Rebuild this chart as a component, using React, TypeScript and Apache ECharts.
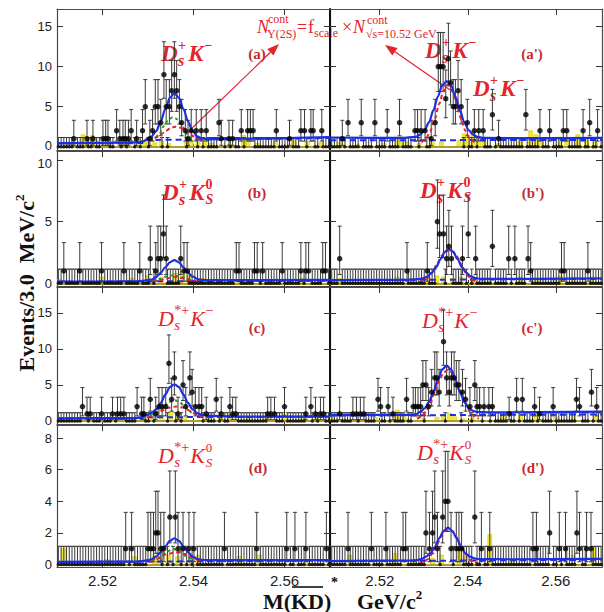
import React, { useEffect, useRef } from "react";
import * as echarts from "echarts";

// ---------- axis ticks ----------
const xTickValues = [2.52, 2.54, 2.56];
const yTicksRow = [
  [0, 5, 10, 15],
  [0, 5, 10],
  [0, 5, 10, 15],
  [0, 2, 4, 6, 8],
];

// ---------- binning / Poisson intervals ----------
const BIN_START = 2.5091;
const BIN_WIDTH = 0.0006;
const BIN_COUNT = 103;
const poissonLow = [0, 0.173, 0.708, 1.367, 2.086, 2.84, 3.62, 4.419, 5.232, 6.057, 6.891, 7.734];
const poissonHigh = [1.148, 3.3, 4.638, 5.918, 7.163, 8.382, 9.584, 10.77, 11.95, 13.11, 14.27, 15.42];

// ---------- data: non-empty bins [mass GeV, events] ----------
const countsA = [[2.5137,1],[2.5166,1],[2.5179,1],[2.5201,1],[2.5207,1],[2.5212,1],[2.5231,2],[2.5238,1],[2.5245,1],[2.525,1],[2.5257,1],[2.5263,2],[2.5275,1],[2.5288,2],[2.5294,5],[2.5304,1],[2.531,2],[2.5316,5],[2.5322,5],[2.5328,3],[2.5335,9],[2.534,5],[2.5347,5],[2.5352,7],[2.5358,9],[2.5363,7],[2.5369,5],[2.5374,3],[2.5382,2],[2.5388,1],[2.5395,2],[2.5406,2],[2.5417,2],[2.5428,2],[2.5456,3],[2.5461,1],[2.5478,1],[2.5486,1],[2.5505,2],[2.5519,2],[2.5525,2],[2.5531,2],[2.5582,2],[2.5611,1],[2.5636,2],[2.5644,2],[2.5658,2],[2.5663,2],[2.5682,2]];
const countsA2 = [[2.5115,1],[2.5128,3],[2.5158,3],[2.5189,3],[2.5217,2],[2.5245,3],[2.528,2],[2.5286,2],[2.5294,2],[2.5303,2],[2.5317,1],[2.5326,3],[2.5333,10],[2.5338,10],[2.5344,10],[2.535,6],[2.5356,11],[2.5361,8],[2.5367,5],[2.5372,5],[2.5378,7],[2.5385,5],[2.5399,3],[2.5415,2],[2.5425,2],[2.5435,2],[2.5456,4],[2.547,1],[2.5532,4],[2.5564,2],[2.5586,2],[2.5617,2],[2.5625,2],[2.5662,2],[2.5677,3],[2.5695,2]];
const countsB = [[2.5115,1],[2.515,1],[2.5198,1],[2.5247,1],[2.5282,1],[2.5305,2],[2.5317,1],[2.5322,2],[2.5328,2],[2.5334,4],[2.534,2],[2.5372,2],[2.5379,1],[2.5386,1],[2.5494,1],[2.55,1],[2.5534,1],[2.554,1],[2.5552,1],[2.5595,1],[2.5636,1],[2.5647,1],[2.5653,1],[2.5684,1],[2.569,1]];
const countsB2 = [[2.5109,2],[2.5262,1],[2.5308,1],[2.5331,5],[2.5336,4],[2.5345,4],[2.5352,2],[2.5357,3],[2.5363,2],[2.5388,2],[2.5401,4],[2.5418,2],[2.5456,3],[2.5493,2],[2.5507,2],[2.5537,2],[2.5543,1],[2.5613,1],[2.5619,1],[2.5673,1]];
const countsC = [[2.5156,2],[2.5166,1],[2.5173,1],[2.5198,1],[2.5222,1],[2.5233,1],[2.524,1],[2.5247,1],[2.5276,2],[2.5286,1],[2.5291,1],[2.5305,3],[2.5317,1],[2.5324,2],[2.5331,2],[2.5339,2],[2.5346,8],[2.5352,3],[2.5358,6],[2.5366,1],[2.5377,5],[2.5383,2],[2.5392,6],[2.5397,4],[2.5404,2],[2.5412,2],[2.5418,2],[2.5428,1],[2.545,3],[2.5461,1],[2.548,2],[2.5486,1],[2.5493,1],[2.5563,1],[2.557,1],[2.5578,1],[2.56,2],[2.5647,1],[2.5658,2],[2.5668,1],[2.5679,1],[2.5686,1]];
const countsC2 = [[2.5109,1],[2.5139,1],[2.5147,1],[2.5156,1],[2.5164,1],[2.5196,3],[2.5202,2],[2.5219,2],[2.523,1],[2.5261,3],[2.5276,2],[2.5281,2],[2.5287,2],[2.5293,2],[2.5298,5],[2.5305,5],[2.5311,2],[2.5318,4],[2.5325,6],[2.533,6],[2.5335,4],[2.5345,11],[2.5352,6],[2.5358,4],[2.5363,6],[2.5369,6],[2.5374,5],[2.538,5],[2.5388,4],[2.5395,3],[2.5405,2],[2.5416,5],[2.5421,2],[2.5427,2],[2.5437,2],[2.5448,2],[2.5456,2],[2.5494,1],[2.5511,3],[2.5524,3],[2.5552,2],[2.5563,1],[2.5594,2],[2.5647,3],[2.5654,2],[2.5681,4],[2.5693,2]];
const countsD = [[2.5251,1],[2.5264,1],[2.53,1],[2.5306,1],[2.5312,1],[2.5317,2],[2.5322,2],[2.5328,1],[2.5335,1],[2.5348,3],[2.536,3],[2.5366,1],[2.5377,1],[2.539,1],[2.5401,1],[2.5468,1],[2.5539,1],[2.5605,1],[2.5623,1],[2.5647,1],[2.5692,1]];
const countsD2 = [[2.5128,1],[2.5181,1],[2.5214,1],[2.5253,1],[2.5259,1],[2.5305,2],[2.5313,1],[2.532,2],[2.5325,3],[2.5331,1],[2.5343,3],[2.5349,4],[2.5355,4],[2.5362,1],[2.5374,1],[2.538,1],[2.5386,1],[2.5416,3],[2.5431,1],[2.545,1],[2.5548,1],[2.5556,1],[2.5586,2],[2.5608,1],[2.5622,1],[2.5648,2],[2.5654,1],[2.567,1],[2.568,1]];

// ---------- yellow (continuum) histograms [mass, height] ----------
const yellowA = [[2.512,0.4],[2.5135,0.6],[2.5157,1.5],[2.5163,1.1],[2.5178,1.4],[2.5184,0.8],[2.5215,0.5],[2.525,0.4],[2.529,0.8],[2.53,1.2],[2.5315,0.5],[2.533,0.7],[2.5345,0.4],[2.5385,0.6],[2.5395,0.8],[2.541,0.5],[2.5425,0.9],[2.544,0.4],[2.548,0.3],[2.551,1.4],[2.552,0.9],[2.554,0.4],[2.558,0.5],[2.562,0.8],[2.565,0.6],[2.568,0.5]];
const yellowA2 = [[2.511,0.5],[2.515,0.3],[2.521,0.4],[2.524,0.9],[2.525,1.2],[2.5262,0.6],[2.529,0.4],[2.532,0.5],[2.534,0.6],[2.538,0.8],[2.5392,1.6],[2.54,1.2],[2.5412,1.9],[2.5425,1.0],[2.5437,0.7],[2.547,0.4],[2.552,0.6],[2.5543,2.0],[2.5555,1.5],[2.5565,0.8],[2.561,1.2],[2.5625,0.9],[2.565,1.5],[2.567,0.8],[2.569,0.6]];
const yellowB = [[2.5105,0.3],[2.52,0.5],[2.5265,0.4],[2.53,0.6],[2.533,0.5],[2.536,0.8],[2.5375,1.0],[2.539,0.6],[2.542,0.4],[2.55,0.3],[2.564,0.4]];
const yellowB2 = [[2.511,0.4],[2.518,0.3],[2.524,0.5],[2.527,0.4],[2.531,0.5],[2.533,0.6],[2.5345,0.5],[2.5365,0.4],[2.5385,0.5],[2.541,0.6],[2.545,0.4],[2.552,0.5],[2.556,0.4],[2.561,0.6],[2.564,0.5],[2.568,0.5]];
const yellowC = [[2.511,0.4],[2.516,0.3],[2.527,0.5],[2.529,0.8],[2.5305,0.6],[2.533,0.7],[2.535,1.3],[2.5365,0.9],[2.538,0.6],[2.543,0.5],[2.546,0.7],[2.548,0.9],[2.552,0.4],[2.556,0.5],[2.56,0.9],[2.564,0.6],[2.567,0.9]];
const yellowC2 = [[2.509,0.6],[2.512,0.3],[2.519,0.5],[2.524,1.5],[2.5255,0.9],[2.53,0.4],[2.533,0.5],[2.5345,0.7],[2.5358,1.1],[2.537,0.6],[2.539,0.3],[2.541,0.4],[2.548,0.6],[2.552,0.9],[2.5555,1.2],[2.56,0.5],[2.564,0.8],[2.569,0.6]];
const yellowD = [[2.5115,1.0],[2.521,0.3],[2.527,0.5],[2.5315,0.6],[2.5325,0.4],[2.5345,0.6],[2.5365,0.5],[2.5395,0.4],[2.541,0.6],[2.55,0.5],[2.5545,0.6],[2.565,0.3]];
const yellowD2 = [[2.5132,0.6],[2.5234,0.7],[2.528,0.3],[2.532,0.4],[2.534,0.6],[2.538,0.8],[2.5395,0.5],[2.545,1.9],[2.55,0.3],[2.564,0.6],[2.5685,1.1]];

// ---------- fit curves [mass, value] ----------
const blueA = [[2.51,0.45],[2.525,0.5],[2.5288,0.6],[2.5298,0.95],[2.5308,1.3],[2.5318,1.95],[2.5328,3.15],[2.5338,4.7],[2.5348,6.1],[2.5358,6.7],[2.5368,6.1],[2.5378,4.7],[2.5388,3.15],[2.5398,1.95],[2.5408,1.3],[2.5418,1.05],[2.5428,0.95],[2.55,1.0],[2.57,1.2]];
const greenA = [[2.5305,0.85],[2.5315,1.1],[2.5325,1.6],[2.5335,2.6],[2.5345,3.4],[2.5355,3.7],[2.5365,3.4],[2.5375,2.6],[2.5385,1.6],[2.5395,1.1],[2.5405,0.85]];
const redA = [[2.53,0.8],[2.531,0.95],[2.532,1.2],[2.533,1.6],[2.534,2.0],[2.535,2.35],[2.536,2.5],[2.537,2.4],[2.538,2.1],[2.539,1.7],[2.54,1.3],[2.541,1.0],[2.542,0.85]];
const bkgA = [[2.51,0.4],[2.5288,0.45],[2.5295,0.85],[2.543,0.9],[2.57,1.1]];

const blueA2 = [[2.5087,1.15],[2.525,1.1],[2.5282,1.24],[2.5292,1.5],[2.5302,2.06],[2.5312,3.07],[2.5322,4.56],[2.5332,6.25],[2.5342,7.65],[2.5352,8.2],[2.5362,7.65],[2.5372,6.25],[2.5382,4.56],[2.5392,3.07],[2.5402,2.06],[2.5412,1.5],[2.5422,1.24],[2.5435,1.1],[2.555,1.05],[2.5705,1.1]];
const redA2 = [[2.5295,0.55],[2.5305,1.0],[2.5315,1.95],[2.5325,3.45],[2.5335,5.35],[2.5345,7.0],[2.5355,7.7],[2.5365,7.0],[2.5375,5.35],[2.5385,3.45],[2.5395,1.95],[2.5405,1.0],[2.5415,0.55]];
const bkgA2 = [[2.5087,0.8],[2.5705,0.85]];

const blueB = [[2.51,0.13],[2.527,0.15],[2.5288,0.2],[2.5298,0.25],[2.5308,0.3],[2.5318,0.5],[2.5328,0.85],[2.5338,1.3],[2.5348,1.7],[2.5358,1.88],[2.5368,1.7],[2.5378,1.3],[2.5388,0.85],[2.5398,0.55],[2.5408,0.35],[2.5418,0.27],[2.543,0.25],[2.57,0.27]];
const greenB = [[2.531,0.25],[2.5325,0.35],[2.534,0.55],[2.5355,0.65],[2.537,0.55],[2.5385,0.35],[2.54,0.25]];
const redB = [[2.531,0.15],[2.5325,0.25],[2.534,0.4],[2.536,0.5],[2.538,0.4],[2.5395,0.25],[2.541,0.15]];
const bkgB = [[2.51,0.12],[2.57,0.22]];

const blueB2 = [[2.5087,0.25],[2.526,0.28],[2.5288,0.33],[2.5298,0.4],[2.5308,0.55],[2.5318,0.85],[2.5328,1.3],[2.5338,1.95],[2.5348,2.55],[2.5357,2.78],[2.5367,2.55],[2.5377,1.95],[2.5387,1.3],[2.5397,0.85],[2.5407,0.55],[2.5417,0.42],[2.543,0.35],[2.5705,0.4]];
const redB2 = [[2.529,0.08],[2.53,0.2],[2.531,0.45],[2.532,0.9],[2.533,1.55],[2.534,2.2],[2.535,2.6],[2.5357,2.65],[2.5365,2.6],[2.5375,2.2],[2.5385,1.55],[2.5395,0.9],[2.5405,0.45],[2.5415,0.2],[2.5425,0.08]];
const bkgB2 = [[2.5087,0.25],[2.5705,0.35]];

const blueC = [[2.51,0.37],[2.527,0.4],[2.5288,0.55],[2.5298,0.85],[2.5308,1.15],[2.5318,1.6],[2.5328,2.5],[2.5338,3.65],[2.5348,4.7],[2.5358,5.1],[2.5368,4.7],[2.5378,3.65],[2.5388,2.5],[2.5398,1.6],[2.5408,1.1],[2.5418,0.85],[2.543,0.75],[2.55,0.6],[2.57,0.6]];
const greenC = [[2.5305,0.8],[2.5315,1.0],[2.5325,1.4],[2.5335,2.0],[2.5345,2.6],[2.5358,2.9],[2.537,2.6],[2.538,2.0],[2.539,1.4],[2.54,1.0],[2.541,0.8]];
const redC = [[2.53,0.5],[2.5315,0.85],[2.533,1.4],[2.5345,1.85],[2.5362,2.0],[2.5378,1.85],[2.5393,1.4],[2.5408,0.85],[2.542,0.5]];
const bkgC = [[2.51,0.35],[2.529,0.4],[2.53,0.5],[2.543,0.55],[2.57,0.6]];

const blueC2 = [[2.5087,0.8],[2.527,0.85],[2.5282,0.95],[2.5292,1.25],[2.5302,1.75],[2.5312,2.65],[2.5322,4.05],[2.5332,5.75],[2.5342,7.15],[2.5352,7.7],[2.5362,7.15],[2.5372,5.75],[2.5382,4.05],[2.5392,2.65],[2.5402,1.8],[2.5412,1.4],[2.5422,1.25],[2.545,1.2],[2.5705,1.3]];
const redC2 = [[2.5285,0.3],[2.5295,0.6],[2.5305,1.3],[2.5315,2.5],[2.5325,4.0],[2.5335,5.6],[2.5345,6.7],[2.5355,7.1],[2.5365,6.7],[2.5375,5.6],[2.5385,4.0],[2.5395,2.5],[2.5405,1.3],[2.5415,0.6],[2.5425,0.3]];
const bkgC2 = [[2.5087,0.75],[2.5705,0.9]];

const blueD = [[2.51,0.17],[2.527,0.18],[2.5288,0.22],[2.5298,0.26],[2.5308,0.33],[2.5318,0.5],[2.5328,0.78],[2.5338,1.15],[2.5348,1.5],[2.5358,1.66],[2.5368,1.5],[2.5378,1.15],[2.5388,0.78],[2.5398,0.5],[2.5408,0.36],[2.5418,0.3],[2.543,0.27],[2.57,0.27]];
const greenD = [[2.531,0.25],[2.5325,0.45],[2.534,0.8],[2.5356,0.98],[2.5372,0.8],[2.5387,0.45],[2.5402,0.25]];
const redD = [[2.5305,0.15],[2.532,0.35],[2.534,0.65],[2.5362,0.78],[2.5384,0.65],[2.5404,0.35],[2.5419,0.15]];
const bkgD = [[2.51,0.15],[2.57,0.25]];

const blueD2 = [[2.5087,0.22],[2.527,0.25],[2.5285,0.28],[2.5295,0.35],[2.5305,0.5],[2.5315,0.7],[2.5325,1.1],[2.5335,1.65],[2.5345,2.12],[2.5355,2.33],[2.5365,2.12],[2.5375,1.65],[2.5385,1.1],[2.5395,0.7],[2.5405,0.5],[2.5415,0.38],[2.5425,0.34],[2.55,0.33],[2.5705,0.35]];
const redD2 = [[2.529,0.05],[2.53,0.15],[2.531,0.35],[2.532,0.7],[2.533,1.25],[2.534,1.8],[2.535,2.15],[2.5357,2.2],[2.5365,2.1],[2.5375,1.7],[2.5385,1.15],[2.5395,0.65],[2.5405,0.3],[2.5415,0.12],[2.5425,0.05]];
const bkgD2 = [[2.5087,0.2],[2.5705,0.3]];

// ---------- panels ----------
const panels = [
  { tag: "(a)", counts: countsA, yellow: yellowA, blue: blueA, green: greenA, red: redA, bkg: bkgA, row: 0, col: 0 },
  { tag: "(a')", counts: countsA2, yellow: yellowA2, blue: blueA2, green: null, red: redA2, bkg: bkgA2, row: 0, col: 1 },
  { tag: "(b)", counts: countsB, yellow: yellowB, blue: blueB, green: greenB, red: redB, bkg: bkgB, row: 1, col: 0 },
  { tag: "(b')", counts: countsB2, yellow: yellowB2, blue: blueB2, green: null, red: redB2, bkg: bkgB2, row: 1, col: 1 },
  { tag: "(c)", counts: countsC, yellow: yellowC, blue: blueC, green: greenC, red: redC, bkg: bkgC, row: 2, col: 0 },
  { tag: "(c')", counts: countsC2, yellow: yellowC2, blue: blueC2, green: null, red: redC2, bkg: bkgC2, row: 2, col: 1 },
  { tag: "(d)", counts: countsD, yellow: yellowD, blue: blueD, green: greenD, red: redD, bkg: bkgD, row: 3, col: 0 },
  { tag: "(d')", counts: countsD2, yellow: yellowD2, blue: blueD2, green: null, red: redD2, bkg: bkgD2, row: 3, col: 1 },
];

// ---------- layout ----------
const colBox = [[57, 273], [330, 272]];
const rowBox = [[9, 141], [151, 135], [287, 137], [425, 142]];
const yRange = [[-0.41, 17.2], [-0.22, 10.73], [-0.42, 18.6], [-0.16, 8.83]];
const xRange = [[2.51, 2.57], [2.5087, 2.5705]];

const SERIF = "'Liberation Serif', 'Times New Roman', serif";
const SANS = "'Liberation Sans', Arial, sans-serif";
const RED = "#e5232b";
const TAGRED = "#c62a30";
const BLUE = "#1c2fe0";

function buildBins(counts: number[][]) {
  const pts: number[][] = counts.map((c) => [c[0], c[1]]);
  for (let i = 0; i < BIN_COUNT; i++) {
    const x = BIN_START + i * BIN_WIDTH;
    if (!counts.some((c) => Math.abs(c[0] - x) < 0.0003)) pts.push([+x.toFixed(5), 0]);
  }
  return pts;
}

function decayLabel(x: number, y: number, star: boolean, ks: boolean, size: number, bold: boolean) {
  const w = bold ? "bold" : "normal";
  const f = (s: number, it: boolean) => `${it ? "italic " : ""}${w} ${s}px ${SERIF}`;
  const t = (tx: number, ty: number, text: string, font: string) => ({
    type: "text",
    x: tx,
    y: ty,
    style: { text, font, fill: RED, textAlign: "left", textVerticalAlign: "middle", verticalAlign: "middle" },
  });
  const dW = size * 0.72;
  const supW = star ? size * 0.66 : size * 0.38;
  const kx = dW + supW + 2;
  const kW = size * 0.68;
  const children: any[] = [
    t(0, 0, "D", f(size, true)),
    t(dW + 0.5, -size * 0.33, star ? "*+" : "+", f(Math.round(size * 0.62), false)),
    t(dW + 0.5, size * 0.33, "s", f(Math.round(size * 0.68), true)),
    t(kx, 0, "K", f(size, true)),
  ];
  if (ks) {
    children.push(t(kx + kW + 0.5, -size * 0.33, "0", f(Math.round(size * 0.6), false)));
    children.push(t(kx + kW + 0.5, size * 0.33, "S", f(Math.round(size * 0.6), true)));
  } else {
    children.push(t(kx + kW + 0.5, -size * 0.33, "\u2212", f(Math.round(size * 0.62), false)));
  }
  return { type: "group", x, y, children };
}

function txt(x: number, y: number, text: string, font: string, fill: string, align = "left") {
  return {
    type: "text",
    x,
    y,
    style: { text, font, fill, textAlign: align, textVerticalAlign: "middle", verticalAlign: "middle" },
  };
}

function buildOption() {
  const grid: any[] = [];
  const xAxis: any[] = [];
  const yAxis: any[] = [];
  const series: any[] = [];

  panels.forEach((p, i) => {
    const [left, width] = colBox[p.col];
    const [top, height] = rowBox[p.row];
    grid.push({ left, top, width, height, show: false });
    const [xmin, xmax] = xRange[p.col];
    const [ymin, ymax] = yRange[p.row];
    const yTicks = yTicksRow[p.row];
    const lineColor = "#4a4a4a";
    const baseX = {
      type: "value",
      gridIndex: i,
      min: xmin,
      max: xmax,
      splitLine: { show: false },
      axisTick: { show: true, inside: true, length: 6, customValues: xTickValues, lineStyle: { color: "#333", width: 1 } },
      axisLine: { show: true, onZero: false, lineStyle: { color: lineColor, width: 1.2 } },
    };
    xAxis.push({
      ...baseX,
      position: "bottom",
      axisLabel: {
        show: p.row === 3,
        customValues: xTickValues,
        fontSize: 15,
        color: "#222",
        fontFamily: SANS,
        margin: 6,
        formatter: (v: number) => v.toFixed(2),
      },
    });
    xAxis.push({ ...baseX, position: "top", axisLabel: { show: false } });
    const baseY = {
      type: "value",
      gridIndex: i,
      min: ymin,
      max: ymax,
      splitLine: { show: false },
      axisTick: { show: true, inside: true, length: 6, customValues: yTicks, lineStyle: { color: "#333", width: 1 } },
    };
    const topTick = yTicks[yTicks.length - 1];
    yAxis.push({
      ...baseY,
      position: "left",
      axisLine: {
        show: true,
        onZero: false,
        lineStyle: { color: p.col === 1 ? "#111" : lineColor, width: p.col === 1 ? 2 : 1.2 },
      },
      axisLabel: {
        show: p.col === 0,
        customValues: yTicks,
        fontSize: 13,
        color: "#222",
        fontFamily: SANS,
        margin: 5,
        formatter: (v: number) => (p.row === 1 && v === topTick ? `{lo|${v}}` : p.row === 0 && v === 0 ? `{hi|${v}}` : `${v}`),
        rich: {
          lo: { fontSize: 13, color: "#222", fontFamily: SANS, padding: [7, 0, 0, 0] },
          hi: { fontSize: 13, color: "#222", fontFamily: SANS, padding: [0, 0, 3, 0] },
        },
      },
    });
    yAxis.push({
      ...baseY,
      position: "right",
      axisLine: { show: true, onZero: false, lineStyle: { color: lineColor, width: 1.2 } },
      axisLabel: { show: false },
    });

    const xi = 2 * i;
    const yi = 2 * i;
    const bins = buildBins(p.counts);
    const errs = bins.map(([x, n]) => [x, poissonLow[n], poissonHigh[n]]);

    // yellow continuum histogram
    series.push({
      type: "custom",
      xAxisIndex: xi,
      yAxisIndex: yi,
      clip: true,
      z: 1,
      data: p.yellow,
      encode: { x: 0, y: 1 },
      renderItem: (params: any, api: any) => {
        const x = api.value(0);
        const h = api.value(1);
        const a = api.coord([x - BIN_WIDTH * 0.75, 0]);
        const b = api.coord([x + BIN_WIDTH * 0.75, h]);
        return {
          type: "rect",
          shape: { x: a[0], y: b[1], width: b[0] - a[0], height: a[1] - b[1] },
          style: { fill: "#f2ea3a", stroke: "#d6c40a", lineWidth: 0.6 },
        };
      },
    });
    // error bars
    series.push({
      type: "custom",
      xAxisIndex: xi,
      yAxisIndex: yi,
      clip: true,
      z: 2,
      data: errs,
      encode: { x: 0, y: [1, 2] },
      renderItem: (params: any, api: any) => {
        const x = api.value(0);
        const a = api.coord([x, api.value(1)]);
        const b = api.coord([x, api.value(2)]);
        const c = 2;
        const style = { stroke: "#3a3a3a", lineWidth: 1 };
        return {
          type: "group",
          children: [
            { type: "line", shape: { x1: a[0], y1: a[1], x2: b[0], y2: b[1] }, style },
            { type: "line", shape: { x1: b[0] - c, y1: b[1], x2: b[0] + c, y2: b[1] }, style },
            { type: "line", shape: { x1: a[0] - c, y1: a[1], x2: a[0] + c, y2: a[1] }, style },
          ],
        };
      },
    });
    const lineBase = {
      type: "line",
      xAxisIndex: xi,
      yAxisIndex: yi,
      showSymbol: false,
      symbol: "none",
      smooth: 0.3,
      smoothMonotone: "x",
      clip: true,
      silent: true,
    };
    series.push({
      ...lineBase,
      z: 3,
      data: p.bkg,
      lineStyle: { color: BLUE, width: 2, type: [6, 4] },
      markLine: {
        silent: true,
        symbol: ["none", "none"],
        label: { show: false },
        lineStyle: { color: "#b39c1e", width: 2, type: "solid" },
        data: [{ yAxis: 0 }],
      },
    });
    if (p.green) {
      series.push({ ...lineBase, z: 3, data: p.green, lineStyle: { color: "#1f9a2a", width: 2, type: [3, 3] } });
    }
    series.push({ ...lineBase, z: 3, data: p.red, lineStyle: { color: "#e8202a", width: 2, type: [4, 3] } });
    series.push({ ...lineBase, z: 4, data: p.blue, lineStyle: { color: BLUE, width: 2.2, type: "solid" } });
    series.push({
      type: "scatter",
      xAxisIndex: xi,
      yAxisIndex: yi,
      z: 5,
      clip: true,
      symbol: "circle",
      symbolSize: (v: number[]) => (v[1] === 0 ? 3.5 : 5.5),
      itemStyle: { color: "#000" },
      data: bins,
    });
  });

  const tagFont = `bold 15px ${SERIF}`;
  const supRich = { sup: { fontSize: 13, fontWeight: "bold", fontFamily: SERIF, fill: "#111", verticalAlign: "top", lineHeight: 26 } };
  const graphic: any[] = [
    decayLabel(161, 53, false, false, 23, true),
    decayLabel(425, 50, false, false, 23, true),
    decayLabel(473, 88, false, false, 23, true),
    decayLabel(162, 192, false, true, 23, true),
    decayLabel(420, 190, false, true, 23, true),
    decayLabel(158, 318, true, false, 22, false),
    decayLabel(422, 320, true, false, 22, false),
    decayLabel(158, 455, true, true, 22, false),
    decayLabel(417, 452, true, true, 22, false),
    txt(257, 54, "(a)", tagFont, TAGRED, "center"),
    txt(532, 54, "(a')", tagFont, TAGRED, "center"),
    txt(257, 193, "(b)", tagFont, TAGRED, "center"),
    txt(533, 193, "(b')", tagFont, TAGRED, "center"),
    txt(257, 328, "(c)", tagFont, TAGRED, "center"),
    txt(532, 328, "(c')", tagFont, TAGRED, "center"),
    txt(258, 468, "(d)", tagFont, TAGRED, "center"),
    txt(533, 468, "(d')", tagFont, TAGRED, "center"),
    // formula
    txt(257, 27, "N", `italic 18px ${SERIF}`, RED),
    txt(268, 19, "cont", `12px ${SERIF}`, RED),
    txt(267, 34, "\u03a5(2S)", `12px ${SERIF}`, RED),
    txt(297, 27, "=", `18px ${SERIF}`, RED),
    txt(308, 27, "f", `18px ${SERIF}`, RED),
    txt(314, 33, "scale", `12px ${SERIF}`, RED),
    txt(342, 27, "\u00d7", `18px ${SERIF}`, RED),
    txt(353, 27, "N", `italic 18px ${SERIF}`, RED),
    txt(367, 20, "cont", `12px ${SERIF}`, RED),
    txt(366, 34, "\u221as=10.52 GeV", `12px ${SERIF}`, RED),
    // arrows
    { type: "line", shape: { x1: 187, y1: 133, x2: 270.4, y2: 52.3 }, style: { stroke: RED, lineWidth: 1.2 } },
    { type: "polygon", shape: { points: [[279, 44], [273.5, 55.5], [267.3, 49.1]] }, style: { fill: RED } },
    { type: "line", shape: { x1: 453, y1: 92, x2: 394.9, y2: 51.8 }, style: { stroke: RED, lineWidth: 1.2 } },
    { type: "polygon", shape: { points: [[385, 45], [397.5, 48.1], [392.3, 55.5]] }, style: { fill: RED } },
    // y title
    {
      type: "text",
      x: 26,
      y: 283,
      rotation: Math.PI / 2,
      style: {
        text: "Events/3.0  MeV/c{sup|2}",
        font: `bold 22px ${SERIF}`,
        fill: "#111",
        lineHeight: 26,
        textAlign: "center",
        textVerticalAlign: "middle",
        verticalAlign: "middle",
        rich: supRich,
      },
    },
    // x title
    txt(263, 601, "M(", `bold 22px ${SERIF}`, "#111"),
    txt(291, 601, "KD", `bold 22px ${SERIF}`, "#111"),
    { type: "line", shape: { x1: 292, y1: 587, x2: 323, y2: 587 }, style: { stroke: "#111", lineWidth: 1.6 } },
    txt(324, 601, ")", `bold 22px ${SERIF}`, "#111"),
    txt(331, 582, "*", `bold 14px ${SERIF}`, "#111"),
    {
      type: "text",
      x: 357,
      y: 601,
      style: {
        text: "GeV/c{sup|2}",
        font: `bold 22px ${SERIF}`,
        fill: "#111",
        lineHeight: 26,
        textAlign: "left",
        textVerticalAlign: "middle",
        verticalAlign: "middle",
        rich: supRich,
      },
    },
  ];

  return { animation: false, backgroundColor: "#fff", grid, xAxis, yAxis, series, graphic };
}

export default function App() {
  const ref = useRef<HTMLDivElement>(null);
  useEffect(() => {
    if (!ref.current) return;
    const chart = echarts.init(ref.current, undefined, { renderer: "svg" });
    chart.setOption(buildOption() as any);
    return () => chart.dispose();
  }, []);
  return <div ref={ref} style={{ position: "fixed", left: 0, top: 0, width: 604, height: 612, background: "#fff" }} />;
}
